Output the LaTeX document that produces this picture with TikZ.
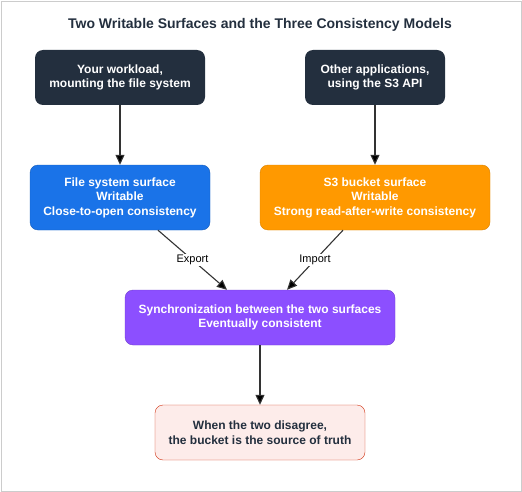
\documentclass[tikz,border=0pt]{standalone}
\usepackage{fontspec}
\setmainfont{Liberation Sans}
\usetikzlibrary{arrows.meta}
\definecolor{navy}{HTML}{232F3E}
\definecolor{fsblue}{HTML}{1A73E8}
\definecolor{sthree}{HTML}{FF9900}
\definecolor{syncpurple}{HTML}{8C4FFF}
\definecolor{truthfill}{HTML}{FDECEA}
\definecolor{truthline}{HTML}{D13212}
\begin{document}
\begin{tikzpicture}[x=1pt,y=-1pt]
        \tikzstyle{every node} = [font=\fontsize{12}{14.5}\selectfont\bfseries, align=center]
        \tikzstyle{box} = [rounded corners=8pt, inner sep=0pt]
        \tikzstyle{flow} = [draw=black!80, line width=1.1pt, -{Triangle[length=10pt,width=9pt,fill=black]}]
            \useasboundingbox (0,0) rectangle (522,492);
            \draw[black!20] (1,1) rectangle (521,491);
            \node[text=navy, font=\fontsize{14}{16}\selectfont\bfseries] (title) at (260,25)
                {Two Writable Surfaces and the Three Consistency Models};

            % sources
            \node[box, fill=navy, text=white, minimum width=170pt, minimum height=55pt] (workload) at (120,77.5)
                {Your workload,\\mounting the file system};
            \node[box, fill=navy, text=white, minimum width=140pt, minimum height=55pt] (apps) at (375,77.5)
                {Other applications,\\using the S3 API};

            % surfaces
            \node[box, fill=fsblue, draw=fsblue!80!black, text=white, minimum width=180pt, minimum height=65pt] (fs) at (120,197.5)
                {File system surface\\Writable\\Close-to-open consistency};
            \node[box, fill=sthree, draw=sthree!85!black, text=white, minimum width=230pt, minimum height=65pt] (bucket) at (375,197.5)
                {S3 bucket surface\\Writable\\Strong read-after-write consistency};

            % sync and truth
            \node[box, fill=syncpurple, draw=syncpurple!80!black, text=white, minimum width=270pt, minimum height=55pt] (sync) at (260,317.5)
                {Synchronization between the two surfaces\\Eventually consistent};
            \node[box, fill=truthfill, draw=truthline, text=navy, minimum width=210pt, minimum height=55pt] (truth) at (260,432.5)
                {When the two disagree,\\the bucket is the source of truth};

            \draw[flow] (workload) -- (fs);
            \draw[flow] (apps) -- (bucket);
            \draw[flow] ([xshift=38pt]fs.south) -- node[fill=white, font=\fontsize{11}{12}\selectfont, inner sep=1pt] {Export} ([xshift=-33pt]sync.north);
            \draw[flow] ([xshift=-32pt]bucket.south) -- node[fill=white, font=\fontsize{11}{12}\selectfont, inner sep=1pt] {Import} ([xshift=27pt]sync.north);
            \draw[flow] (sync) -- (truth);
\end{tikzpicture}
\end{document}
